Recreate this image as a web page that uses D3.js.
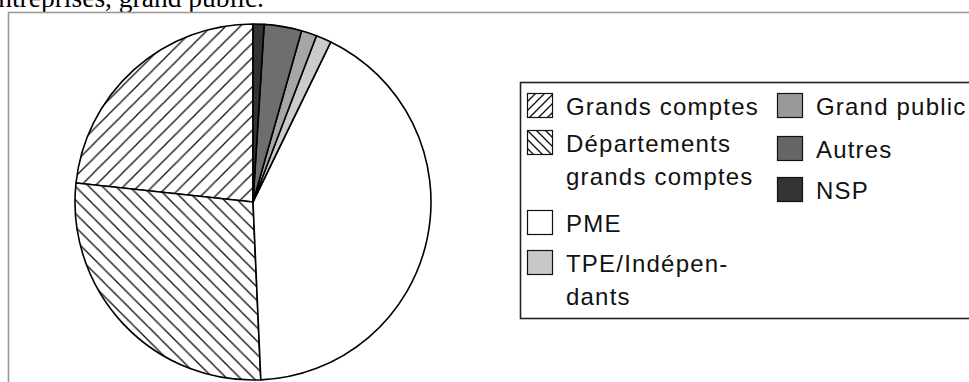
<!DOCTYPE html>
<html>
<head>
<meta charset="utf-8">
<script src="https://cdn.jsdelivr.net/npm/d3@7"></script>
<style>
  html, body { margin: 0; padding: 0; background: #fff; }
  svg { display: block; }
</style>
</head>
<body>
<svg id="chart" width="969" height="382"></svg>
<script>
// Répartition des clients par type (en %)
const categories = ["Grands comptes", "Départements grands comptes", "PME", "TPE/Indépendants", "Grand public", "Autres", "NSP"];
const shares = [23.3, 27.4, 42.1, 1.4, 1.4, 3.4, 1.0];
const legendLabels = [
  ["Grands comptes"],
  ["Départements", "grands comptes"],
  ["PME"],
  ["TPE/Indépen-", "dants"],
  ["Grand public"],
  ["Autres"],
  ["NSP"]
];
const titleText = "entreprises, grand public.";

const sliceFills = ["url(#hatch-fwd)", "url(#hatch-back)", "#ffffff", "#cbcbcb", "#a6a6a6", "#6e6e6e", "#333333"];
const keyFills = ["url(#key-fwd)", "url(#key-back)", "#ffffff", "#c8c8c8", "#999999", "#666666", "#333333"];

const svg = d3.select("#chart");
const defs = svg.append("defs");

function hatch(id, size, forward) {
  const p = defs.append("pattern")
    .attr("id", id)
    .attr("patternUnits", "userSpaceOnUse")
    .attr("width", size).attr("height", size);
  p.append("rect").attr("width", size).attr("height", size).attr("fill", "#fff");
  const seg = forward
    ? [[-1, size + 1, size + 1, -1], [-1, 1, 1, -1], [size - 1, size + 1, size + 1, size - 1]]
    : [[-1, -1, size + 1, size + 1], [size - 1, -1, size + 1, 1], [-1, size - 1, 1, size + 1]];
  seg.forEach(s => p.append("line")
    .attr("x1", s[0]).attr("y1", s[1]).attr("x2", s[2]).attr("y2", s[3])
    .attr("stroke", "#111").attr("stroke-width", 1.3));
}
hatch("hatch-fwd", 14.5, true);
hatch("hatch-back", 13.5, false);
hatch("key-fwd", 9, true);
hatch("key-back", 9, false);

// Titre (partiellement visible en haut)
svg.append("text")
  .attr("x", -14).attr("y", 7)
  .attr("font-family", "'Liberation Serif', 'DejaVu Serif', serif")
  .attr("font-size", 27.5)
  .attr("fill", "#000")
  .text(titleText);

// Cadre du graphique
svg.append("rect")
  .attr("x", 8.5).attr("y", 12.5)
  .attr("width", 980).attr("height", 400)
  .attr("fill", "#fff")
  .attr("stroke", "#9a9a9a").attr("stroke-width", 1.6);

// Camembert (sens antihoraire depuis midi)
const cx = 253, cy = 202, radius = 178;
const pie = d3.pie().sort(null).value(d => d).startAngle(0).endAngle(-2 * Math.PI);
const arc = d3.arc().innerRadius(0).outerRadius(radius);

svg.append("g")
  .attr("transform", `translate(${cx},${cy})`)
  .selectAll("path")
  .data(pie(shares))
  .join("path")
  .attr("d", arc)
  .attr("fill", (d, i) => sliceFills[i])
  .attr("stroke", "#000")
  .attr("stroke-width", 1.6)
  .attr("stroke-linejoin", "round");

// Légende
svg.append("rect")
  .attr("x", 520.5).attr("y", 82.5)
  .attr("width", 470).attr("height", 236)
  .attr("fill", "#fff")
  .attr("stroke", "#222").attr("stroke-width", 1.6);

const keyCol = [0, 0, 0, 0, 1, 1, 1];
const keyTop = [93, 130, 210, 250, 93, 136, 177];
const colX = [527, 777];
const sw = 25, sh = 24;
const lineGap = 33;

const key = svg.append("g").selectAll("g")
  .data(categories)
  .join("g")
  .attr("transform", (d, i) => `translate(${colX[keyCol[i]]},${keyTop[i]})`);

key.append("rect")
  .attr("x", 0.5).attr("y", 0.5)
  .attr("width", sw).attr("height", sh)
  .attr("fill", (d, i) => keyFills[i])
  .attr("stroke", "#111").attr("stroke-width", 1.2);

key.each(function (d, i) {
  const t = d3.select(this).append("text")
    .attr("font-family", "'Liberation Sans', Arial, sans-serif")
    .attr("font-size", 24)
    .attr("letter-spacing", 1.2)
    .attr("fill", "#111");
  legendLabels[i].forEach((line, j) => {
    t.append("tspan")
      .attr("x", 39)
      .attr("y", 22 + j * lineGap)
      .text(line);
  });
});
</script>
</body>
</html>
